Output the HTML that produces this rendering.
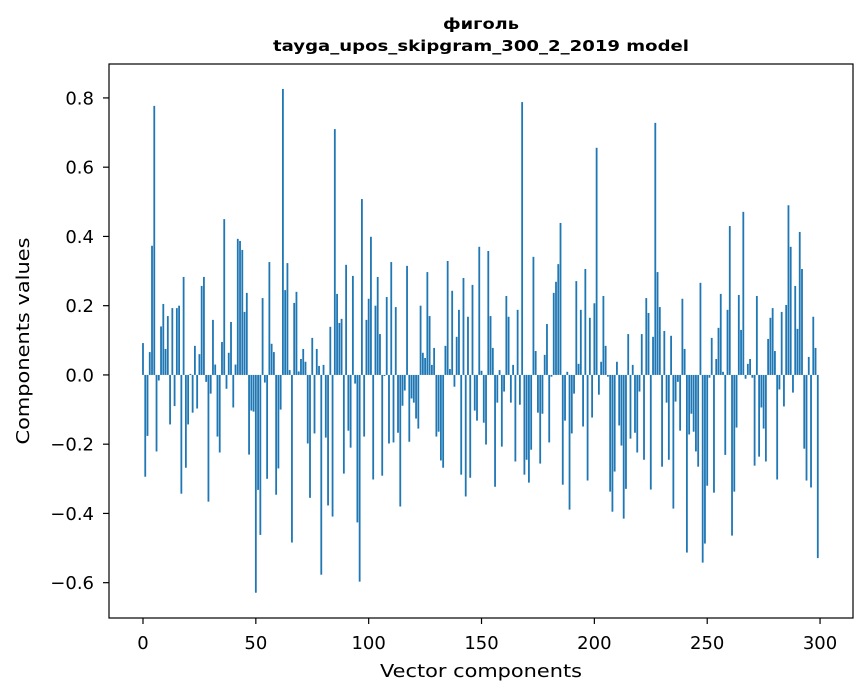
<!DOCTYPE html>
<html><head><meta charset="utf-8"><style>
html,body{margin:0;padding:0;background:#fff;}
svg{display:block;font-family:"DejaVu Sans","Liberation Sans",sans-serif;}
</style></head><body>
<svg id="chart" width="867" height="696" viewBox="0 0 867 696" xmlns="http://www.w3.org/2000/svg">
<rect width="867" height="696" fill="#fff"/>
<text x="481" y="29" text-anchor="middle" font-size="15" font-weight="bold" textLength="76" lengthAdjust="spacingAndGlyphs">фиголь</text>
<text x="481" y="51" text-anchor="middle" font-size="15" font-weight="bold" textLength="416" lengthAdjust="spacingAndGlyphs">tayga_upos_skipgram_300_2_2019 model</text>
<g id="bars"></g>
<g id="axes"></g>
<rect x="109" y="64" width="744" height="554" fill="none" stroke="#000" stroke-width="1.2"/>
<text x="481" y="677" text-anchor="middle" font-size="18" textLength="202" lengthAdjust="spacingAndGlyphs">Vector components</text>
<text transform="translate(29,341) rotate(-90)" text-anchor="middle" font-size="18" textLength="207" lengthAdjust="spacingAndGlyphs">Components values</text>
</svg>
<script>
const vals0=[0.092,-0.294,-0.176,0.066,0.373,0.777,-0.221,-0.016,0.14,0.205,0.075,0.17,-0.143,0.193,-0.09,0.193,0.2,-0.343,0.283,-0.268,-0.143,0.003,-0.109,0.084,-0.097,0.06,0.257,0.283,-0.02,-0.366,-0.054,0.159,0.03,-0.178,-0.224,0.095,0.45,-0.04,0.064,0.153,-0.094,0.03,0.393,0.387,0.361,0.182,0.237,-0.23,-0.103,-0.106];
const vals1=[-0.629,-0.332,-0.462,0.222,-0.022,-0.30,0.326,0.09,0.066,-0.346,-0.27,-0.10,0.826,0.245,0.323,0.014,-0.484,0.208,0.24,0.01,0.046,0.075,0.038,-0.198,-0.355,0.107,-0.169,0.075,0.026,-0.577,0.029,-0.181,-0.377,0.139,-0.409,0.71,0.234,0.15,0.162,-0.285,0.318,-0.161,-0.21,0.286,-0.025,-0.426,-0.597,0.508,-0.178,0.159];
const vals2=[0.22,0.399,-0.302,0.2,0.283,0.118,-0.291,-0.003,0.225,-0.198,0.326,-0.195,0.196,-0.167,-0.38,-0.089,-0.045,0.315,-0.193,-0.068,-0.08,-0.126,-0.155,0.2,0.064,0.049,0.297,0.17,0.029,0.078,-0.178,-0.164,-0.247,-0.268,0.084,0.329,0.017,0.243,-0.034,0.11,0.188,-0.288,0.28,-0.351,0.168,-0.297,0.26,-0.103,-0.132,0.37];
const vals3=[0.012,-0.138,-0.201,0.358,0.17,0.078,-0.323,-0.08,0.014,-0.207,-0.048,0.228,0.168,-0.08,0.029,-0.25,0.188,-0.086,0.788,-0.288,-0.245,-0.311,-0.216,0.341,0.069,-0.109,-0.256,-0.112,0.058,0.147,-0.195,-0.005,0.237,0.269,0.32,0.439,-0.317,-0.132,0.009,-0.389,-0.169,-0.054,0.271,0.032,0.188,-0.149,0.306,-0.305,0.165,-0.123];
const vals4=[0.207,0.656,-0.057,0.038,0.228,0.084,-0.005,-0.337,-0.395,-0.279,0.038,-0.146,-0.204,-0.415,-0.329,0.118,-0.184,0.029,-0.167,-0.224,-0.048,0.118,-0.245,0.222,0.179,-0.331,0.11,0.728,0.297,0.196,-0.265,0.127,-0.08,-0.245,0.113,-0.386,-0.077,-0.02,-0.161,0.22,0.075,-0.513,-0.172,-0.112,-0.164,-0.221,-0.265,0.266,-0.542,-0.487];
const vals5=[-0.32,-0.008,0.107,-0.34,0.046,0.136,0.234,0.009,-0.231,0.188,0.43,-0.464,-0.337,-0.152,0.231,0.13,0.471,-0.011,0.032,0.046,-0.008,-0.262,0.228,-0.236,-0.094,-0.155,-0.25,0.104,0.165,0.193,0.069,-0.302,-0.042,0.182,-0.091,0.202,0.49,0.37,-0.051,0.257,0.133,0.413,0.306,-0.213,-0.305,0.052,-0.325,0.168,0.078,-0.529];
const xTicks=[0,50,100,150,200,250,300];
const yTicks=[-0.6,-0.4,-0.2,0.0,0.2,0.4,0.6,0.8];
const values=[].concat(vals0,vals1,vals2,vals3,vals4,vals5);

const NS="http://www.w3.org/2000/svg";
const L=109,R=853,T=64,B=618;
const xMin=-15.06,xMax=314.6,yMin=-0.702,yMax=0.898;
function xs(v){return L+(v-xMin)/(xMax-xMin)*(R-L);}
function ys(v){return B-(v-yMin)/(yMax-yMin)*(B-T);}
const bars=document.getElementById('bars');
const axes=document.getElementById('axes');
const bw=(xs(0.8)-xs(0));
values.forEach((v,i)=>{
  const r=document.createElementNS(NS,'rect');
  const y0=ys(0),y1=ys(v);
  r.setAttribute('x',xs(i)-bw/2);
  r.setAttribute('y',Math.min(y0,y1));
  r.setAttribute('width',bw);
  r.setAttribute('height',Math.max(Math.abs(y1-y0),0.3));
  r.setAttribute('fill','#1f77b4');
  
  
  bars.appendChild(r);
});
xTicks.forEach(t=>{
  const x=xs(t);
  const l=document.createElementNS(NS,'line');
  l.setAttribute('x1',x);l.setAttribute('x2',x);l.setAttribute('y1',B);l.setAttribute('y2',B+6);
  l.setAttribute('stroke','#000');l.setAttribute('stroke-width','1.2');
  
  
  axes.appendChild(l);
  const tx=document.createElementNS(NS,'text');
  tx.setAttribute('x',x);tx.setAttribute('y',B+31);tx.setAttribute('text-anchor','middle');tx.setAttribute('font-size','18');
  tx.textContent=String(t);
  
  
  axes.appendChild(tx);
});
yTicks.forEach(t=>{
  const y=ys(t);
  const l=document.createElementNS(NS,'line');
  l.setAttribute('x1',L-6);l.setAttribute('x2',L);l.setAttribute('y1',y);l.setAttribute('y2',y);
  l.setAttribute('stroke','#000');l.setAttribute('stroke-width','1.2');
  
  
  axes.appendChild(l);
  const tx=document.createElementNS(NS,'text');
  tx.setAttribute('x',L-15);tx.setAttribute('y',y+6.5);tx.setAttribute('text-anchor','end');tx.setAttribute('font-size','18');
  tx.textContent=(t<0?'\u2212':'')+Math.abs(t).toFixed(1);
  
  
  axes.appendChild(tx);
});
</script>
</body></html>
